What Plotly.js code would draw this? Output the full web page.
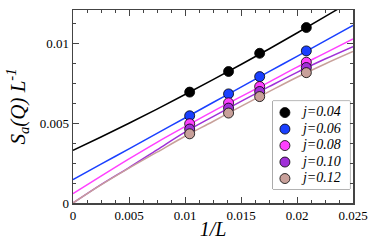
<!DOCTYPE html>
<html>
<head>
<meta charset="utf-8">
<script src="https://cdn.plot.ly/plotly-3.0.1.min.js"></script>
<style>html,body{margin:0;padding:0;background:#fff;}#chart{width:382px;height:251px;}</style>
</head>
<body>
<div id="chart"></div>
<script>
// Data points: x = 1/L for L = 96, 72, 60, 48
var invL = [1/96, 1/72, 1/60, 1/48];
var labels = ["j=0.04", "j=0.06", "j=0.08", "j=0.10", "j=0.12"];
var s004 = [0.00694, 0.00823, 0.00937, 0.01098];
var s006 = [0.00546, 0.00683, 0.00791, 0.00952];
var s008 = [0.00496, 0.00627, 0.00729, 0.00881];
var s010 = [0.00463, 0.00594, 0.00698, 0.00848];
var s012 = [0.00433, 0.00563, 0.00666, 0.00816];

// Fitted curves at fixed 1/L values
var fitX = [0, 0.0025, 0.005, 0.0075, 0.01, 0.0125, 0.015, 0.0175, 0.02, 0.0225, 0.025];
var fit004 = [0.00329, 0.00413, 0.00499, 0.00588, 0.00679, 0.00772, 0.00867, 0.00964, 0.01064, 0.01166, 0.01270];
var fit006 = [0.00146, 0.00243, 0.00339, 0.00436, 0.00532, 0.00629, 0.00725, 0.00822, 0.00918, 0.01015, 0.01111];
var fit008 = [0.00058, 0.00168, 0.00276, 0.00380, 0.00478, 0.00574, 0.00666, 0.00757, 0.00850, 0.00938, 0.01027];
var fit010 = [0.0, 0.00115, 0.00222, 0.00333, 0.00444, 0.00541, 0.00636, 0.00728, 0.00818, 0.00901, 0.00979];
var fit012 = [0.0, 0.00113, 0.00218, 0.00318, 0.00418, 0.00510, 0.00605, 0.00697, 0.00787, 0.00870, 0.00948];

var colors = ["#000000", "#1a40ff", "#ff40ff", "#a030d8", "#c8a09a"];
var pts = [s004, s006, s008, s010, s012];
var fits = [fit004, fit006, fit008, fit010, fit012];
var serif = "Liberation Serif";

var traces = [];
for (var i = 0; i < 5; i++) {
  traces.push({
    x: fitX, y: fits[i], mode: "lines", type: "scatter",
    line: {color: colors[i], width: 1.5, shape: "spline"},
    showlegend: false, hoverinfo: "skip"
  });
}
for (var i = 0; i < 5; i++) {
  traces.push({
    x: invL, y: pts[i], mode: "markers", type: "scatter",
    name: labels[i], showlegend: false,
    marker: {color: colors[i], size: 10, line: {color: "#000", width: 0.8}},
    cliponaxis: false
  });
}
// Legend drawn in its own small invisible subplot, one row per series
var rows = labels.map(function (_, i) { return i; });
traces.push({
  x: rows.map(function () { return 0; }), y: rows, xaxis: "x2", yaxis: "y2",
  mode: "markers", type: "scatter", showlegend: false, hoverinfo: "skip",
  marker: {color: colors, size: 10, line: {color: "#000", width: 0.8}}
});
traces.push({
  x: rows.map(function () { return 18; }), y: rows, xaxis: "x2", yaxis: "y2",
  mode: "text", type: "scatter", showlegend: false, hoverinfo: "skip",
  text: labels.map(function (s) { return "<i>" + s + "</i>"; }),
  textposition: "middle right",
  textfont: {family: serif, size: 14, color: "#000"}
});

var axisCommon = {
  showgrid: false, zeroline: false, showline: true, linecolor: "#444", linewidth: 1.5,
  mirror: "ticks", ticks: "inside", ticklen: 6, tickwidth: 1, tickcolor: "#444",
  tickfont: {family: serif, size: 13, color: "#000"}
};

var layout = {
  width: 382, height: 251,
  margin: {l: 73, r: 29, t: 10, b: 48},
  paper_bgcolor: "#fff", plot_bgcolor: "#fff",
  font: {family: serif, color: "#000"},
  showlegend: false,
  xaxis: Object.assign({}, axisCommon, {
    domain: [0, 1],
    range: [0, 0.025], dtick: 0.005, tick0: 0,
    minor: {dtick: 0.00125, ticks: "inside", ticklen: 3, tickcolor: "#444"},
    title: {text: "<i>1/L</i>", font: {family: serif, size: 20}, standoff: 0}
  }),
  yaxis: Object.assign({}, axisCommon, {
    domain: [0, 1],
    range: [0, 0.01208], dtick: 0.005, tick0: 0,
    minor: {dtick: 0.00125, ticks: "inside", ticklen: 3, tickcolor: "#444"},
    title: {text: "<i>S</i><sub><i>a</i></sub><i>(Q) L</i><sup><i>-1</i></sup>", font: {family: serif, size: 21}, standoff: 8}
  }),
  xaxis2: {domain: [0.714, 0.989], range: [-12, 65], anchor: "y2", visible: false, fixedrange: true},
  yaxis2: {domain: [0.0725, 0.528], range: [4.636, -0.697], anchor: "x2", visible: false, fixedrange: true},
  shapes: [{
    type: "rect", xref: "x2 domain", yref: "y2 domain", x0: 0, x1: 1, y0: 0, y1: 1,
    line: {color: "#666", width: 1}, fillcolor: "#fff", layer: "below"
  }]
};

Plotly.newPlot("chart", traces, layout, {staticPlot: true, displayModeBar: false});
</script>
</body>
</html>
